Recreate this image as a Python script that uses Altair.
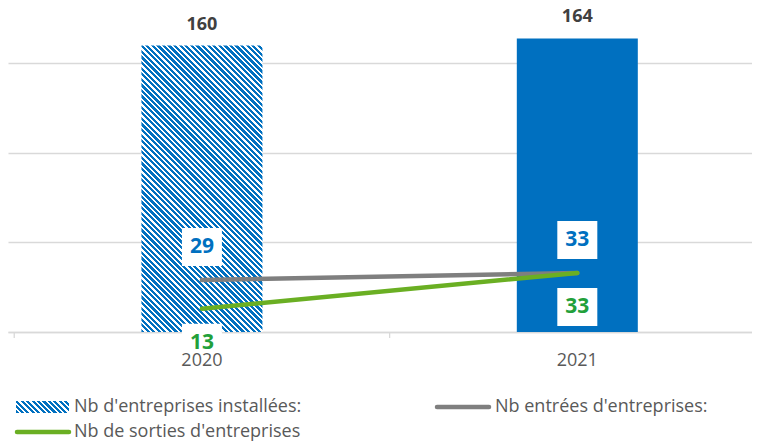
import json
import altair as alt
import pandas as pd

# ---------------- data ----------------
years = ["2020", "2021"]
installees = [160, 164]
entrees = [29, 33]
sorties = [13, 33]
legend_names = ["Nb d'entreprises installées:", "Nb entrées d'entreprises:", "Nb de sorties d'entreprises"]

BLUE = "#0070c0"
GREY = "#7f7f7f"
GREEN_LINE = "#6aaf23"
GREEN_TEXT = "#22a03a"
GRID = "#d9d9d9"
TXT = "#595959"
FONT = "Open Sans"

df = pd.DataFrame({
    "year": years,
    "idx": list(range(len(years))),
    "inst": installees,
    "ent": entrees,
    "sor": sorties,
})
df_lines = df.melt(id_vars=["year", "idx"], value_vars=["ent", "sor"], var_name="series", value_name="val")

# ---------------- layout ----------------
W, H = 744, 324
YMAX = 181
STEP = 380.5
C0 = 191.5
d0 = -C0 / STEP
d1 = d0 + W / STEP
BAR_W = 121

xs = alt.Scale(domain=[d0, d1], nice=False, zero=False)
ys = alt.Scale(domain=[0, YMAX], nice=False, zero=True)


def hatch(w, h, period=5.6, frac=0.58):
    """diagonal '\\' stripes as a linear gradient over a w x h box"""
    total = w + h
    n = max(1, round(total / period))
    stops = []
    for i in range(n):
        a = i / n
        m = (i + frac) / n
        b = (i + 1) / n
        stops += [
            alt.GradientStop(offset=a, color=BLUE),
            alt.GradientStop(offset=m, color=BLUE),
            alt.GradientStop(offset=m, color="white"),
            alt.GradientStop(offset=b, color="white"),
        ]
    r = h / w
    k = (1 + r) / (1 + r * r)
    return alt.LinearGradient(gradient="linear", stops=stops, x1=0, y1=1, x2=k, y2=1 - k * r)


bar_h = installees[0] / YMAX * H
hatch_bar = hatch(BAR_W, bar_h)
hatch_leg = hatch(53, 12)

xaxis = alt.Axis(
    values=list(range(len(years))),
    labels=False, ticks=False, grid=False, domainColor=GRID, domainWidth=1.3,
    title=None,
)
yaxis = alt.Axis(values=[0, 50, 100, 150], grid=True, gridColor=GRID, gridWidth=1.3,
                 labels=False, ticks=False, domain=False, title=None)


def X(field="idx"):
    return alt.X(f"{field}:Q", scale=xs, axis=xaxis)


def Y(field):
    return alt.Y(f"{field}:Q", scale=ys, axis=yaxis)


base = alt.Chart(df)

bar1 = base.transform_filter(alt.datum.idx == 0).mark_bar(size=BAR_W, color=hatch_bar).encode(
    x=X(), y=Y("inst"))
bar2 = base.transform_filter(alt.datum.idx == 1).mark_bar(size=BAR_W, color=BLUE).encode(
    x=X(), y=Y("inst"))

bar_lab = base.mark_text(dy=-16, baseline="alphabetic", fontSize=18, fontWeight="bold",
                         color="#404040", font=FONT).encode(x=X(), y=Y("inst"), text="inst:Q")

ticks_df = pd.DataFrame({"idx": [i - 0.5 for i in range(len(years))]})
tick_rules = alt.Chart(ticks_df).mark_rule(color=GRID, strokeWidth=1.3).encode(
    x=X(), y=alt.value(H), y2=alt.value(H + 6))

lines = alt.Chart(df_lines).mark_line(strokeWidth=4.5, strokeCap="round").encode(
    x=X(), y=Y("val"),
    color=alt.Color("series:N", scale=alt.Scale(domain=["ent", "sor"], range=[GREY, GREEN_LINE]), legend=None),
)

BOX = "M-1,-0.95L1,-0.95L1,0.95L-1,0.95Z"
box_ent = base.mark_point(shape=BOX, size=1600, filled=True, color="white", opacity=1, strokeWidth=0,
                          yOffset=-33).encode(x=X(), y=Y("ent"))
box_sor = base.mark_point(shape=BOX, size=1600, filled=True, color="white", opacity=1, strokeWidth=0,
                          yOffset=34).encode(x=X(), y=Y("sor"))
lab_ent = base.mark_text(dy=-33, baseline="middle", fontSize=21, fontWeight="bold", color=BLUE,
                         font=FONT).encode(x=X(), y=Y("ent"), text="ent:Q")
lab_sor = base.mark_text(dy=34, baseline="middle", fontSize=21, fontWeight="bold", color=GREEN_TEXT,
                         font=FONT).encode(x=X(), y=Y("sor"), text="sor:Q")

# category labels drawn on top of the data-label boxes
year_lab = base.mark_text(baseline="middle", fontSize=18, color=TXT, font=FONT).encode(
    x=X(), y=alt.value(H + 29), text="year:N")

# ---------------- legend ----------------
def leg_df(i):
    return pd.DataFrame({"label": [legend_names[i]]})

leg_patch = alt.Chart(leg_df(0)).mark_rect(color=hatch_leg).encode(
    x=alt.value(8), x2=alt.value(61), y=alt.value(393), y2=alt.value(405))
leg_grey = alt.Chart(leg_df(1)).mark_rule(color=GREY, strokeWidth=4.5, strokeCap="round").encode(
    x=alt.value(429), x2=alt.value(481), y=alt.value(399))
leg_green = alt.Chart(leg_df(2)).mark_rule(color=GREEN_LINE, strokeWidth=4.5, strokeCap="round").encode(
    x=alt.value(9), x2=alt.value(61), y=alt.value(424))

def leg_text(i, x, y):
    return alt.Chart(leg_df(i)).mark_text(align="left", baseline="middle", fontSize=18, color=TXT,
                                          font=FONT).encode(x=alt.value(x), y=alt.value(y), text="label:N")

chart = alt.layer(
    bar1, bar2, tick_rules, lines, box_ent, box_sor, lab_ent, lab_sor, bar_lab, year_lab,
    leg_patch, leg_grey, leg_green,
    leg_text(0, 66, 399), leg_text(1, 487, 399), leg_text(2, 66, 424),
).properties(
    width=W, height=H,
    autosize=alt.AutoSizeParams(type="none"),
    padding={"left": 0, "top": 0, "right": 0, "bottom": 112},
    background="white",
).configure_view(stroke=None)

chart.save("out.html", embed_options={"renderer": "svg", "actions": False})
